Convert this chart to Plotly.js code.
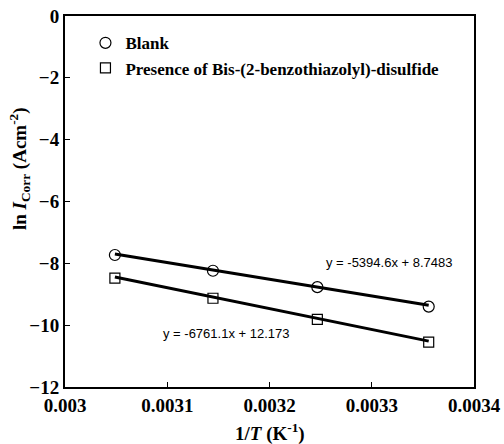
<!DOCTYPE html>
<html>
<head>
<meta charset="utf-8">
<script src="https://cdn.plot.ly/plotly-3.0.1.min.js"></script>
<style>html,body{margin:0;padding:0;background:#fff;}#chart{width:504px;height:444px;}</style>
</head>
<body>
<div id="chart"></div>
<script>
// Data
var invT = [0.0030488, 0.0031447, 0.0032468, 0.0033557];
var blankLnI = [-7.73, -8.24, -8.77, -9.40];
var inhibLnI = [-8.48, -9.13, -9.81, -10.55];
var seriesNames = ["Blank", "Presence of Bis-(2-benzothiazolyl)-disulfide"];
var fitSlope = [-5394.6, -6761.1];
var fitIntercept = [8.7483, 12.173];
var fitLabels = ["y = -5394.6x + 8.7483", "y = -6761.1x + 12.173"];
var xTicks = [0.003, 0.0031, 0.0032, 0.0033, 0.0034];
var xTickText = ["0.003", "0.0031", "0.0032", "0.0033", "0.0034"];
var yTicks = [0, -2, -4, -6, -8, -10, -12];

var serif = "Liberation Serif, Times New Roman, serif";
var fitX = [invT[0], invT[invT.length - 1]];
function fitY(i) { return fitX.map(function (x) { return fitSlope[i] * x + fitIntercept[i]; }); }

var traces = [
  {x: fitX, y: fitY(0), mode: "lines", line: {color: "#000", width: 3}, showlegend: false, hoverinfo: "skip"},
  {x: fitX, y: fitY(1), mode: "lines", line: {color: "#000", width: 3}, showlegend: false, hoverinfo: "skip"},
  {x: invT, y: blankLnI, name: seriesNames[0], mode: "markers", legendgroup: "a",
   marker: {symbol: "circle-open", size: 11, color: "#000", line: {width: 1.2, color: "#000"}}},
  {x: invT, y: inhibLnI, name: seriesNames[1], mode: "markers", legendgroup: "b",
   marker: {symbol: "square-open", size: 10, color: "#000", line: {width: 1.2, color: "#000"}}}
];

var layout = {
  width: 504, height: 444,
  margin: {l: 65, r: 30, t: 16, b: 57},
  paper_bgcolor: "#fff", plot_bgcolor: "#fff",
  xaxis: {
    range: [0.003, 0.0034], tickvals: xTicks, ticktext: xTickText,
    ticks: "inside", ticklen: 5, tickwidth: 1, tickcolor: "#000",
    showline: true, linewidth: 2, linecolor: "#000", mirror: true,
    showgrid: false, zeroline: false,
    tickfont: {family: serif, size: 19, color: "#000", weight: "bold"}
  },
  yaxis: {
    range: [-12, 0], tickvals: yTicks,
    ticks: "inside", ticklen: 5, tickwidth: 1, tickcolor: "#000",
    showline: true, linewidth: 2, linecolor: "#000", mirror: true,
    showgrid: false, zeroline: false,
    tickfont: {family: serif, size: 19, color: "#000", weight: "bold"}
  },
  legend: {
    x: 0.050, y: 0.975, xanchor: "left", yanchor: "top",
    bgcolor: "rgba(0,0,0,0)", borderwidth: 0,
    traceorder: "grouped", tracegroupgap: 0,
    itemwidth: 30,
    font: {family: serif, size: 17, color: "#000", weight: "bold"}
  },
  showlegend: true,
  annotations: [
    {text: fitLabels[0], xref: "paper", yref: "paper", x: (389 - 65) / 409, y: 1 - (262 - 16) / 371,
     xanchor: "center", yanchor: "middle",
     showarrow: false, font: {family: "Liberation Sans, Arial, sans-serif", size: 13, color: "#000"}},
    {text: fitLabels[1], xref: "paper", yref: "paper", x: (226 - 65) / 409, y: 1 - (333 - 16) / 371,
     xanchor: "center", yanchor: "middle",
     showarrow: false, font: {family: "Liberation Sans, Arial, sans-serif", size: 13, color: "#000"}},
    {text: "ln <i>I</i><sub>Corr</sub> (Acm<sup>-2</sup>)", xref: "paper", yref: "paper",
     x: (19 - 65) / 409, y: 1 - (169 - 16) / 371, textangle: -90, showarrow: false,
     xanchor: "center", yanchor: "middle",
     font: {family: serif, size: 19, color: "#000", weight: "bold"}},
    {text: "1/<i>T</i> (K<sup>-1</sup>)", xref: "paper", yref: "paper",
     x: 0.5, y: -(432 - 387) / 371, showarrow: false,
     xanchor: "center", yanchor: "middle",
     font: {family: serif, size: 19, color: "#000", weight: "bold"}}
  ]
};

Plotly.newPlot("chart", traces, layout, {displayModeBar: false, staticPlot: true});
</script>
</body>
</html>
